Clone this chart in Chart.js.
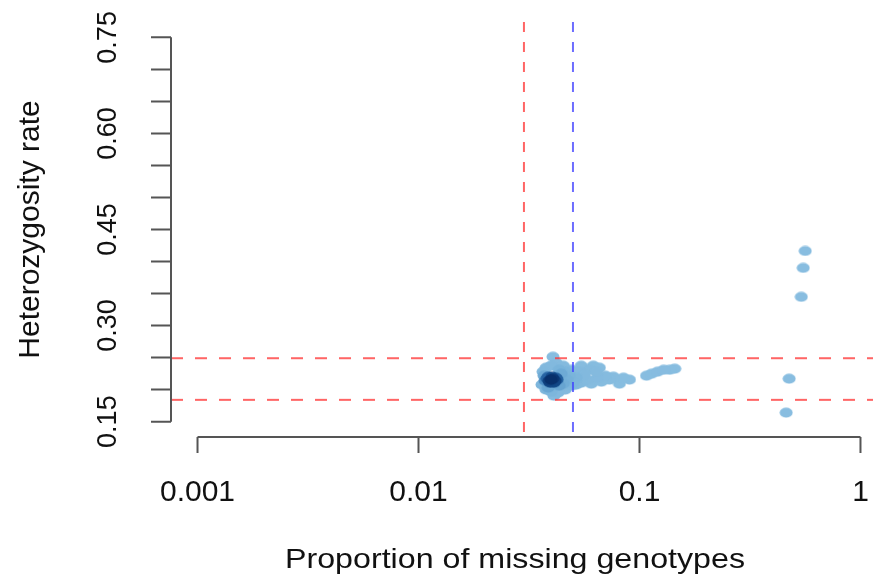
<!DOCTYPE html>
<html lang="en">
<head>
<meta charset="UTF-8">
<title>Heterozygosity rate vs proportion of missing genotypes</title>
<script src="https://cdn.jsdelivr.net/npm/chart.js"></script>
<style>
    html, body { margin: 0; padding: 0; background: #fff; overflow: hidden; }
    #chart { display: block; }
</style>
</head>
<body>
<canvas id="chart" width="893" height="579"></canvas>
<script>
// proportion of missing genotypes per sample (x axis, log scale)
const missing = [
    0.0382, 0.0390, 0.0398, 0.0406, 0.0415, 0.0394, 0.0402, 0.0424, 0.0374, 0.0410, 0.0386, 0.0419,
    0.0366, 0.0378, 0.0398, 0.0406, 0.0419, 0.0433, 0.0442, 0.0452, 0.0466, 0.0386, 0.0398, 0.0410,
    0.0378, 0.0433, 0.0452, 0.0471, 0.0481, 0.0491, 0.0501, 0.0517, 0.0534, 0.0545, 0.0562, 0.0580,
    0.0593, 0.0618, 0.0644, 0.0672, 0.0701, 0.0731, 0.0762, 0.0811, 0.0846, 0.0901, 0.1076, 0.1134,
    0.1207, 0.1286, 0.1369, 0.1443, 0.0461, 0.0428, 0.0362, 0.0370, 0.0491, 0.0517, 0.0545, 0.0605,
    0.0637, 0.0658,
    0.5623, 0.5508, 0.5395, 0.4757, 0.4611
];
// heterozygosity rate per sample (y axis)
const hetRate = [
    0.2170, 0.2139, 0.2155, 0.2170, 0.2139, 0.2108, 0.2201, 0.2155, 0.2139, 0.2108, 0.2201, 0.2186,
    0.2279, 0.2342, 0.2373, 0.2513, 0.2419, 0.2310, 0.2248, 0.2373, 0.2279, 0.2030, 0.1968, 0.1905,
    0.1999, 0.2061, 0.2092, 0.2155, 0.2217, 0.2310, 0.2108, 0.2186, 0.2279, 0.2373, 0.2232, 0.2155,
    0.2310, 0.2373, 0.2186, 0.2123, 0.2217, 0.2155, 0.2201, 0.2092, 0.2186, 0.2155, 0.2217, 0.2248,
    0.2279, 0.2310, 0.2310, 0.2326, 0.1999, 0.1952, 0.2077, 0.2217, 0.2061, 0.2077, 0.2108, 0.2092,
    0.2279, 0.2342,
    0.4165, 0.3900, 0.3448, 0.2170, 0.1640
];

const xTicks = [0.001, 0.01, 0.1, 1];
const xTickLabels = ['0.001', '0.01', '0.1', '1'];
const yTicks = [0.15, 0.30, 0.45, 0.60, 0.75];
const yTickLabels = ['0.15', '0.30', '0.45', '0.60', '0.75'];
const yMinorStep = 0.05;

// cut-offs drawn as dashed lines
const missCutRed = 0.03;
const missCutBlue = 0.05;
const hetLimits = [0.184, 0.249];

const xTitle = 'Proportion of missing genotypes';
const yTitle = 'Heterozygosity rate';

const FONT = '"Liberation Sans", Arial, Helvetica, sans-serif';

// density colours, like R densCols with the blues palette
const ramp = ['#88bde0', '#76b1d9', '#5a9acb', '#3574b2', '#154e8e', '#08306b'];

function hexToRgb(h) {
    return [parseInt(h.slice(1, 3), 16), parseInt(h.slice(3, 5), 16), parseInt(h.slice(5, 7), 16)];
}
function rampColor(t) {
    t = Math.max(0, Math.min(1, t));
    let pos = t * (ramp.length - 1);
    let i = Math.min(Math.floor(pos), ramp.length - 2);
    let f = pos - i;
    let a = hexToRgb(ramp[i]), b = hexToRgb(ramp[i + 1]);
    let c = a.map((v, k) => Math.round(v + (b[k] - v) * f));
    return 'rgb(' + c.join(',') + ')';
}

// kernel density of each point (log10 x, y)
let dens = missing.map((xi, i) => {
    let s = 0;
    missing.forEach((xj, j) => {
        let dx = (Math.log10(xi) - Math.log10(xj)) / 0.03;
        let dy = (hetRate[i] - hetRate[j]) / 0.01;
        s += Math.exp(-(dx * dx + dy * dy) / 2);
    });
    return s;
});
let maxDens = Math.max(...dens);

// low density first so the dense core is drawn on top
let order = missing.map((_, i) => i).sort((a, b) => dens[a] - dens[b]);
let points = order.map(i => ({ x: missing[i], y: hetRate[i], d: Math.pow(dens[i] / maxDens, 3) }));

let dotCache = {};
function dot(color) {
    if (!dotCache[color]) {
        let c = document.createElement('canvas');
        c.width = 14;
        c.height = 11;
        let g = c.getContext('2d');
        g.fillStyle = color;
        g.beginPath();
        g.ellipse(7, 5.5, 6.5, 5, 0, 0, Math.PI * 2);
        g.fill();
        dotCache[color] = c;
    }
    return dotCache[color];
}

function dashed(ctx, x1, y1, x2, y2, color, dash) {
    ctx.save();
    ctx.strokeStyle = color;
    ctx.lineWidth = 2;
    ctx.setLineDash(dash);
    ctx.beginPath();
    ctx.moveTo(x1, y1);
    ctx.lineTo(x2, y2);
    ctx.stroke();
    ctx.restore();
}

// abline(v=...), abline(h=...)
const ablines = {
    id: 'ablines',
    afterDatasetsDraw(chart) {
        let { ctx, chartArea: a, scales: { x, y } } = chart;
        hetLimits.forEach(h => {
            let py = y.getPixelForValue(h);
            dashed(ctx, a.left, py, a.right, py, 'rgba(255,50,50,0.75)', [12, 12]);
        });
        let pr = x.getPixelForValue(missCutRed);
        dashed(ctx, pr, a.top, pr, a.bottom, 'rgba(255,50,50,0.75)', [10, 10]);
        let pb = x.getPixelForValue(missCutBlue);
        dashed(ctx, pb, a.top, pb, a.bottom, 'rgba(60,60,255,0.75)', [10, 10]);
    }
};

// base-R style detached axes
const rAxes = {
    id: 'rAxes',
    afterDraw(chart) {
        let { ctx, chartArea: a, scales: { x, y } } = chart;
        ctx.save();
        ctx.strokeStyle = '#555';
        ctx.lineWidth = 2;

        // y axis
        let y0 = y.getPixelForValue(yTicks[0]);
        let y1 = y.getPixelForValue(yTicks[yTicks.length - 1]);
        ctx.beginPath();
        ctx.moveTo(a.left, y0);
        ctx.lineTo(a.left, y1);
        for (let v = yTicks[0]; v <= yTicks[yTicks.length - 1] + 1e-9; v += yMinorStep) {
            let py = y.getPixelForValue(v);
            ctx.moveTo(a.left - 20, py);
            ctx.lineTo(a.left, py);
        }
        ctx.stroke();

        // x axis
        let x0 = x.getPixelForValue(xTicks[0]);
        let x1 = x.getPixelForValue(xTicks[xTicks.length - 1]);
        ctx.beginPath();
        ctx.moveTo(x0, a.bottom);
        ctx.lineTo(x1, a.bottom);
        xTicks.forEach(v => {
            let px = x.getPixelForValue(v);
            ctx.moveTo(px, a.bottom);
            ctx.lineTo(px, a.bottom + 16);
        });
        ctx.stroke();

        ctx.fillStyle = '#111';

        // x tick labels
        ctx.font = '30px ' + FONT;
        ctx.textAlign = 'center';
        ctx.textBaseline = 'alphabetic';
        xTicks.forEach((v, i) => {
            ctx.fillText(xTickLabels[i], x.getPixelForValue(v), 501);
        });

        // y tick labels, rotated
        ctx.font = '27px ' + FONT;
        yTicks.forEach((v, i) => {
            ctx.save();
            ctx.translate(116, y.getPixelForValue(v));
            ctx.rotate(-Math.PI / 2);
            ctx.fillText(yTickLabels[i], 0, 0);
            ctx.restore();
        });

        // x title
        ctx.font = '28px ' + FONT;
        ctx.save();
        ctx.translate(515, 568);
        let w = ctx.measureText(xTitle).width;
        ctx.scale(460 / w, 1);
        ctx.fillText(xTitle, 0, 0);
        ctx.restore();

        // y title
        ctx.font = '30px ' + FONT;
        ctx.save();
        ctx.translate(39, (a.top + a.bottom) / 2);
        ctx.rotate(-Math.PI / 2);
        ctx.fillText(yTitle, 0, 0);
        ctx.restore();

        ctx.restore();
    }
};

new Chart(document.getElementById('chart'), {
    type: 'scatter',
    data: {
        datasets: [{
            label: 'samples',
            data: points,
            pointRadius: 6,
            pointStyle: c => dot(rampColor(c.raw ? c.raw.d : 0)),
            backgroundColor: '#88bde0',
            borderWidth: 0
        }]
    },
    options: {
        responsive: false,
        animation: false,
        events: [],
        layout: { padding: { left: 171, top: 22, right: 0, bottom: 142 } },
        plugins: {
            legend: { display: false },
            tooltip: { enabled: false }
        },
        scales: {
            x: { type: 'logarithmic', min: Math.pow(10, -3.12), max: Math.pow(10, 0.12), display: false },
            y: { type: 'linear', min: 0.126, max: 0.774, display: false }
        }
    },
    plugins: [ablines, rAxes]
});
</script>
</body>
</html>
